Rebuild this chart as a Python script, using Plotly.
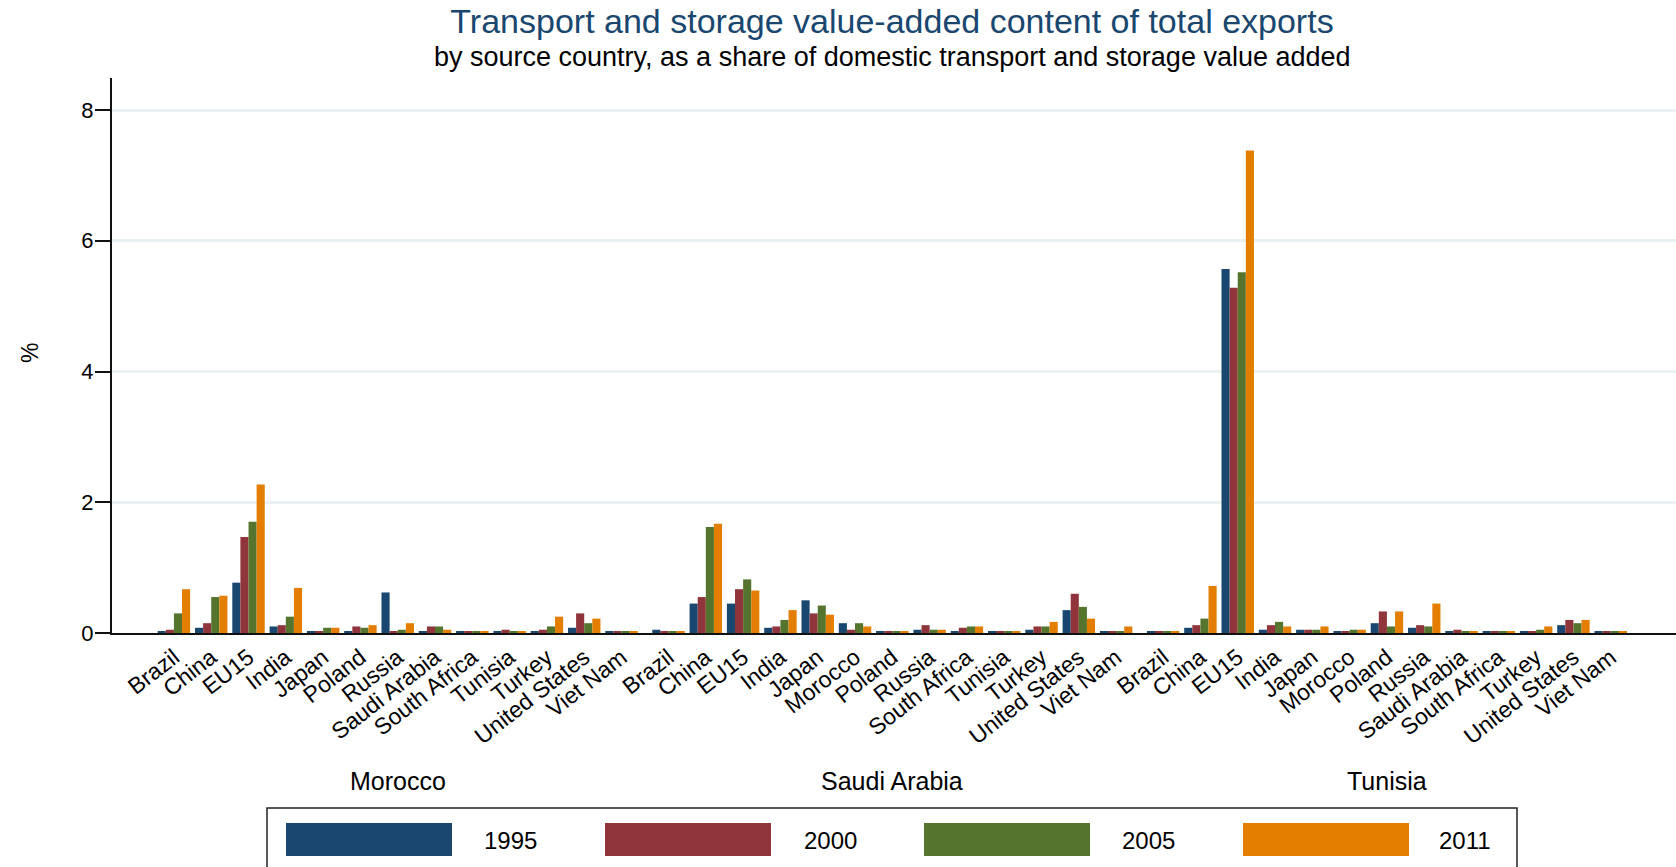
import plotly.graph_objects as go

# ---------------- data ----------------
groups = ["Morocco", "Saudi Arabia", "Tunisia"]
partners_morocco = ["Brazil", "China", "EU15", "India", "Japan", "Poland", "Russia",
                    "Saudi Arabia", "South Africa", "Tunisia", "Turkey", "United States", "Viet Nam"]
partners_saudi = ["Brazil", "China", "EU15", "India", "Japan", "Morocco", "Poland",
                  "Russia", "South Africa", "Tunisia", "Turkey", "United States", "Viet Nam"]
partners_tunisia = ["Brazil", "China", "EU15", "India", "Japan", "Morocco", "Poland",
                    "Russia", "Saudi Arabia", "South Africa", "Turkey", "United States", "Viet Nam"]

years = ["1995", "2000", "2005", "2011"]

morocco_1995 = [0.03, 0.08, 0.77, 0.10, 0.02, 0.02, 0.62, 0.02, 0.02, 0.02, 0.02, 0.08, 0.02]
morocco_2000 = [0.05, 0.15, 1.47, 0.12, 0.02, 0.10, 0.03, 0.10, 0.02, 0.05, 0.05, 0.30, 0.02]
morocco_2005 = [0.30, 0.55, 1.70, 0.25, 0.08, 0.08, 0.05, 0.10, 0.02, 0.02, 0.10, 0.15, 0.02]
morocco_2011 = [0.67, 0.57, 2.27, 0.69, 0.08, 0.12, 0.15, 0.05, 0.02, 0.02, 0.25, 0.22, 0.02]

saudi_1995 = [0.05, 0.45, 0.45, 0.08, 0.50, 0.15, 0.02, 0.05, 0.02, 0.02, 0.05, 0.35, 0.02]
saudi_2000 = [0.02, 0.55, 0.67, 0.10, 0.30, 0.05, 0.02, 0.12, 0.08, 0.02, 0.10, 0.60, 0.02]
saudi_2005 = [0.02, 1.62, 0.82, 0.20, 0.42, 0.15, 0.02, 0.05, 0.10, 0.02, 0.10, 0.40, 0.02]
saudi_2011 = [0.02, 1.67, 0.65, 0.35, 0.28, 0.10, 0.02, 0.05, 0.10, 0.02, 0.17, 0.22, 0.10]

tunisia_1995 = [0.02, 0.08, 5.57, 0.05, 0.05, 0.02, 0.15, 0.08, 0.02, 0.02, 0.02, 0.12, 0.02]
tunisia_2000 = [0.02, 0.12, 5.28, 0.12, 0.05, 0.02, 0.33, 0.12, 0.05, 0.02, 0.02, 0.20, 0.02]
tunisia_2005 = [0.02, 0.22, 5.52, 0.17, 0.05, 0.05, 0.10, 0.10, 0.02, 0.02, 0.05, 0.15, 0.02]
tunisia_2011 = [0.02, 0.72, 7.38, 0.10, 0.10, 0.05, 0.33, 0.45, 0.02, 0.02, 0.10, 0.20, 0.02]

y_ticks = [0, 2, 4, 6, 8]

# ---------------- styling ----------------
colors = ["#1a476f", "#90353b", "#55752f", "#e37e00"]
FONT = "Liberation Sans, Arial, sans-serif"
W, H = 1676, 867
ML, MR, MT, MB = 112, 0, 78, 234
GAP = 0.26  # extra spacing between country groups (in category units)

partner_lists = [partners_morocco, partners_saudi, partners_tunisia]
series = {
    "1995": [morocco_1995, saudi_1995, tunisia_1995],
    "2000": [morocco_2000, saudi_2000, tunisia_2000],
    "2005": [morocco_2005, saudi_2005, tunisia_2005],
    "2011": [morocco_2011, saudi_2011, tunisia_2011],
}

# category positions along the axis
xpos, xtext, group_centers = [], [], []
for g, plist in enumerate(partner_lists):
    start = g * (len(plist) + GAP)
    for i, p in enumerate(plist):
        xpos.append(start + i)
        xtext.append(p)
    group_centers.append(start + (len(plist) - 1) / 2)

fig = go.Figure()
for yr, col in zip(years, colors):
    vals = [v for grp in series[yr] for v in grp]
    fig.add_trace(go.Bar(x=xpos, y=vals, name=yr, marker=dict(color=col, line=dict(width=0)),
                         showlegend=False))

plot_w = W - ML - MR
plot_h = H - MT - MB


def px_x(px):
    return (px - ML) / plot_w


def px_y(py):
    return (H - MB - py) / plot_h


annotations = []
shapes = []

# subtitle
annotations.append(dict(text="by source country, as a share of domestic transport and storage value added",
                        x=px_x(892), y=px_y(57), xref="paper", yref="paper",
                        showarrow=False, font=dict(family=FONT, size=27, color="#000000"),
                        xanchor="center", yanchor="middle"))
# y-axis title
annotations.append(dict(text="%", x=px_x(30), y=px_y(353), xref="paper", yref="paper",
                        showarrow=False, textangle=-90, font=dict(family=FONT, size=23, color="#000000"),
                        xanchor="center", yanchor="middle"))
# group labels
for gname, gc in zip(groups, group_centers):
    annotations.append(dict(text=gname, x=gc, y=px_y(781), xref="x", yref="paper",
                            showarrow=False, font=dict(family=FONT, size=25, color="#000000"),
                            xanchor="center", yanchor="middle"))

# custom legend
shapes.append(dict(type="rect", xref="paper", yref="paper",
                   x0=px_x(267), x1=px_x(1517), y0=px_y(808), y1=px_y(880),
                   line=dict(color="#222222", width=1.5), fillcolor="rgba(0,0,0,0)"))
sw_left = [286, 605, 924, 1243]
lab_c = [511, 830, 1148, 1465]
for yr, col, sl, lc in zip(years, colors, sw_left, lab_c):
    shapes.append(dict(type="rect", xref="paper", yref="paper",
                       x0=px_x(sl), x1=px_x(sl + 166), y0=px_y(856), y1=px_y(823),
                       line=dict(width=0), fillcolor=col))
    annotations.append(dict(text=yr, x=px_x(lc), y=px_y(840), xref="paper", yref="paper",
                            showarrow=False, font=dict(family=FONT, size=24, color="#000000"),
                            xanchor="center", yanchor="middle"))

fig.update_layout(
    width=W, height=H,
    margin=dict(l=ML, r=MR, t=MT, b=MB, autoexpand=False),
    paper_bgcolor="white", plot_bgcolor="white",
    barmode="group", bargap=0.13, bargroupgap=0,
    title=dict(text="Transport and storage value-added content of total exports",
               x=892 / W, y=1 - 21 / H, xref="container", yref="container",
               xanchor="center", yanchor="middle",
               font=dict(family=FONT, size=34, color="#1a476f")),
    font=dict(family=FONT, color="#000000"),
    xaxis=dict(range=[-1.66, 40.27], tickmode="array", tickvals=xpos, ticktext=xtext,
               tickangle=-38, ticks="", showgrid=False, zeroline=False,
               showline=True, linecolor="#111111", linewidth=2,
               tickfont=dict(family=FONT, size=23, color="#000000")),
    yaxis=dict(range=[0, 8.49], tickmode="array", tickvals=y_ticks,
               ticks="outside", ticklen=15, tickwidth=1.5, tickcolor="#111111",
               ticklabelstandoff=-3,
               showgrid=True, gridcolor="#e9f1f3", gridwidth=3, zeroline=False,
               showline=True, linecolor="#111111", linewidth=2,
               tickfont=dict(family=FONT, size=22, color="#000000")),
    annotations=annotations,
    shapes=shapes,
)

fig.write_html("out.html", config={"displayModeBar": False},
               post_script="document.body.style.margin='0';document.body.style.overflow='hidden';")
